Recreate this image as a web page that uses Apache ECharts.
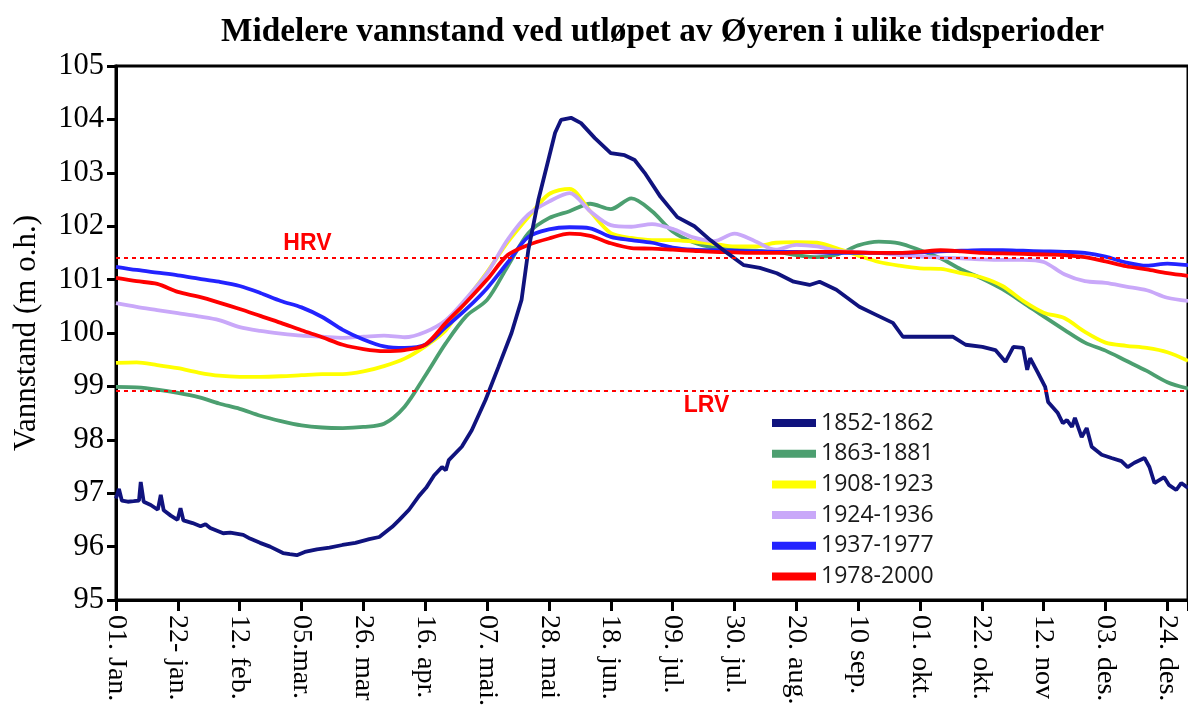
<!DOCTYPE html>
<html lang="no">
<head>
<meta charset="UTF-8">
<title>Midelere vannstand Øyeren</title>
<script src="https://cdn.jsdelivr.net/npm/echarts@6/dist/echarts.min.js"></script>
<style>
    body { margin: 0; background: #fff; }
    #chart { width: 1188px; height: 709px; }
</style>
</head>
<body>
<div id="chart"></div>
<script>
// dag i året (0 = 1. jan), ukentlig
var days = [0, 7, 14, 21, 28, 35, 42, 49, 56, 63, 70, 77, 84, 91, 98, 105, 112, 119, 126, 133,
    140, 147, 154, 161, 168, 175, 182, 189, 196, 203, 210, 217, 224, 231, 238, 245, 252, 259,
    266, 273, 280, 287, 294, 301, 308, 315, 322, 329, 336, 343, 350, 357, 364]

var tickLabels = ['01. Jan.', '22- jan.', '12. feb.', '05.mar.', '26. mar', '16. apr.', '07. mai.',
    '28. mai', '18. jun.', '09. jul.', '30. jul.', '20. aug.', '10 sep.', '01. okt.', '22. okt.',
    '12. nov', '03. des.', '24. des.']

var periods = ['1852-1862', '1863-1881', '1908-1923', '1924-1936', '1937-1977', '1978-2000']

var lv1863 = [98.99, 98.98, 98.94, 98.88, 98.80, 98.68, 98.58, 98.45, 98.35, 98.27, 98.23, 98.22,
    98.24, 98.30, 98.62, 99.20, 99.81, 100.32, 100.62, 101.25, 101.87, 102.15, 102.28, 102.42,
    102.32, 102.52, 102.28, 101.90, 101.70, 101.60, 101.56, 101.54, 101.52, 101.46, 101.42,
    101.47, 101.64, 101.71, 101.68, 101.55, 101.40, 101.19, 101.02, 100.82, 100.57, 100.31,
    100.06, 99.82, 99.67, 99.48, 99.29, 99.08, 98.96]

var lv1908 = [99.44, 99.45, 99.40, 99.34, 99.26, 99.20, 99.18, 99.18, 99.19, 99.21, 99.23, 99.23,
    99.28, 99.38, 99.52, 99.75, 100.05, 100.62, 101.14, 101.70, 102.17, 102.60, 102.70, 102.28,
    101.87, 101.78, 101.74, 101.74, 101.71, 101.67, 101.62, 101.62, 101.69, 101.70, 101.69,
    101.58, 101.45, 101.33, 101.26, 101.21, 101.20, 101.12, 101.04, 100.88, 100.60, 100.38,
    100.28, 100.02, 99.82, 99.76, 99.72, 99.64, 99.48]

var lv1924 = [100.56, 100.49, 100.43, 100.37, 100.31, 100.24, 100.11, 100.04, 99.99, 99.95, 99.93,
    99.91, 99.93, 99.95, 99.92, 100.02, 100.24, 100.65, 101.12, 101.75, 102.22, 102.46, 102.62,
    102.28, 102.02, 101.99, 102.04, 101.95, 101.79, 101.72, 101.86, 101.72, 101.56, 101.65,
    101.62, 101.54, 101.52, 101.50, 101.46, 101.43, 101.41, 101.40, 101.38, 101.37, 101.37,
    101.33, 101.10, 100.97, 100.94, 100.87, 100.80, 100.66, 100.60]

var lv1937 = [101.24, 101.18, 101.13, 101.08, 101.02, 100.96, 100.88, 100.75, 100.60, 100.48,
    100.30, 100.06, 99.88, 99.75, 99.72, 99.78, 100.11, 100.45, 100.84, 101.32, 101.80, 101.94,
    101.98, 101.96, 101.80, 101.74, 101.69, 101.60, 101.56, 101.55, 101.54, 101.53, 101.52,
    101.52, 101.51, 101.50, 101.50, 101.50, 101.50, 101.51, 101.53, 101.54, 101.55, 101.55,
    101.54, 101.53, 101.52, 101.50, 101.43, 101.32, 101.26, 101.30, 101.27]

var lv1978 = [101.03, 100.97, 100.92, 100.77, 100.68, 100.57, 100.45, 100.32, 100.19, 100.05,
    99.92, 99.78, 99.70, 99.66, 99.68, 99.78, 100.19, 100.58, 101.00, 101.46, 101.65, 101.77,
    101.86, 101.82, 101.68, 101.59, 101.58, 101.56, 101.54, 101.52, 101.51, 101.50, 101.50,
    101.51, 101.52, 101.52, 101.51, 101.50, 101.50, 101.52, 101.55, 101.53, 101.50, 101.49,
    101.48, 101.47, 101.46, 101.42, 101.34, 101.25, 101.19, 101.12, 101.07]

// 1852-1862 er mye mer ujevn, egne dager
var navyDays = [0, 1, 2, 4, 6, 7.8, 8.4, 9.4, 11.8, 14.2, 15.2, 16.2, 18.6, 20.9, 21.9, 22.9, 26,
    28.7, 30.4, 32, 36.4, 38.8, 43.2, 45.5, 48.9, 52.3, 56.7, 59, 61.4, 64.1, 68.2, 72.5, 76.9,
    81.3, 86, 89.4, 93.8, 96.2, 99.5, 102.9, 105.3, 108, 110.7, 112, 113, 117.4, 120.8, 125.5,
    129.9, 134.3, 137.7, 140, 143.4, 146.8, 149.1, 151.1, 154.5, 157.9, 162.6, 168, 172.7, 176.1,
    179.5, 184.9, 190.6, 196.4, 201.8, 207.5, 213.2, 218.6, 224.4, 230.1, 235.5, 238.9, 244.6,
    252.4, 258.1, 263.8, 267.2, 275, 284.1, 288.5, 294.2, 298.6, 302, 304.7, 308, 309.4, 310.4,
    313.1, 315.5, 316.5, 319.8, 321.5, 322.9, 324.6, 325.6, 327.9, 329.6, 331.3, 334.7, 338,
    341.4, 343.5, 345.8, 349.2, 350.9, 352.6, 355.9, 357.6, 360, 361.7, 364]
var lv1852 = [96.90, 97.08, 96.86, 96.84, 96.85, 96.86, 97.21, 96.84, 96.78, 96.69, 96.97, 96.68,
    96.58, 96.50, 96.72, 96.49, 96.44, 96.38, 96.42, 96.35, 96.25, 96.26, 96.22, 96.15, 96.07,
    96.00, 95.88, 95.86, 95.84, 95.90, 95.95, 95.98, 96.03, 96.07, 96.14, 96.18, 96.37, 96.50,
    96.69, 96.95, 97.10, 97.33, 97.49, 97.43, 97.62, 97.87, 98.18, 98.75, 99.37, 100.00, 100.62,
    101.55, 102.49, 103.24, 103.75, 103.99, 104.03, 103.93, 103.65, 103.37, 103.33, 103.24,
    103.00, 102.55, 102.17, 102.00, 101.74, 101.50, 101.27, 101.22, 101.12, 100.96, 100.90,
    100.96, 100.81, 100.49, 100.34, 100.19, 99.93, 99.93, 99.93, 99.78, 99.74, 99.68, 99.46,
    99.74, 99.72, 99.31, 99.53, 99.25, 98.99, 98.71, 98.50, 98.31, 98.37, 98.24, 98.41, 98.05,
    98.22, 97.87, 97.72, 97.66, 97.60, 97.49, 97.57, 97.66, 97.49, 97.19, 97.30, 97.15, 97.06,
    97.19, 97.10]

var hrv = 101.4
var lrv = 98.92

var colors = ['#10137e', '#4c9f70', '#ffff00', '#c9a8f9', '#2323ff', '#ff0000']

function pairs(xs, ys) {
    return xs.map(function (d, i) { return [d, ys[i]] })
}

var weekly = [lv1863, lv1908, lv1924, lv1937, lv1978]
var series = []
series.push({
    name: periods[0], type: 'line', showSymbol: false, symbol: 'none',
    data: pairs(navyDays, lv1852),
    lineStyle: {width: 3.8, color: colors[0]}, itemStyle: {color: colors[0]}, z: 3
})
for (var i = 0; i < weekly.length; i++) {
    series.push({
        name: periods[i + 1], type: 'line', showSymbol: false, symbol: 'none', smooth: 0.3,
        data: pairs(days, weekly[i]),
        lineStyle: {width: 3.8, color: colors[i + 1]}, itemStyle: {color: colors[i + 1]}, z: 2
    })
}
// HRV / LRV
series.push({
    type: 'line', data: [], silent: true,
    markLine: {
        silent: true, symbol: 'none', label: {show: false},
        lineStyle: {color: '#ff0000', width: 2, type: [4, 4]},
        data: [{yAxis: hrv}, {yAxis: lrv}]
    },
    markPoint: {
        silent: true, symbol: 'rect', symbolSize: 1, itemStyle: {color: 'transparent'},
        label: {show: true, color: '#ff0000', fontWeight: 'bold', fontSize: 23, fontFamily: 'Liberation Sans'},
        data: [
            {coord: [65, hrv], label: {position: 'top', distance: 3, formatter: 'HRV'}},
            {coord: [200.5, lrv], label: {position: 'bottom', distance: 3, formatter: 'LRV'}}
        ]
    }
})

var chart = echarts.init(document.getElementById('chart'), null, {renderer: 'canvas'})
chart.setOption({
    animation: false,
    title: {
        text: 'Midelere vannstand ved utløpet av Øyeren i ulike tidsperioder',
        left: 216, top: 11,
        textStyle: {fontFamily: 'Liberation Serif', fontWeight: 'bold', fontSize: 33.3, color: '#000'}
    },
    legend: {
        data: periods, orient: 'vertical', left: 772, top: 411, padding: 0,
        icon: 'rect', itemWidth: 44, itemHeight: 8, itemGap: 6.7,
        textStyle: {fontFamily: 'Open Sans', fontSize: 23, color: '#1a1a1a', lineHeight: 24}
    },
    grid: {left: 116, right: -6, top: 66, bottom: 109, show: true, borderColor: '#000', borderWidth: 3},
    xAxis: {
        type: 'value', min: 0, max: 364, interval: 21,
        axisLine: {show: true, lineStyle: {color: '#000', width: 3}},
        axisTick: {show: true, length: 11, lineStyle: {color: '#000', width: 3}},
        splitLine: {show: false},
        axisLabel: {
            rotate: -90, margin: 15, fontFamily: 'Liberation Serif', fontSize: 28, color: '#000',
            formatter: function (v) {
                return v % 21 === 0 && tickLabels[v / 21] ? tickLabels[v / 21] : ''
            }
        }
    },
    yAxis: {
        type: 'value', min: 95, max: 105, interval: 1,
        name: 'Vannstand (m o.h.)', nameLocation: 'middle', nameGap: 74,
        nameTextStyle: {fontFamily: 'Liberation Serif', fontSize: 31, color: '#000'},
        axisLine: {show: true, lineStyle: {color: '#000', width: 3}},
        axisTick: {show: true, length: 9, lineStyle: {color: '#000', width: 3}},
        splitLine: {show: false},
        axisLabel: {margin: 12, fontFamily: 'Liberation Serif', fontSize: 30.5, color: '#000'}
    },
    series: series
})
</script>
</body>
</html>
